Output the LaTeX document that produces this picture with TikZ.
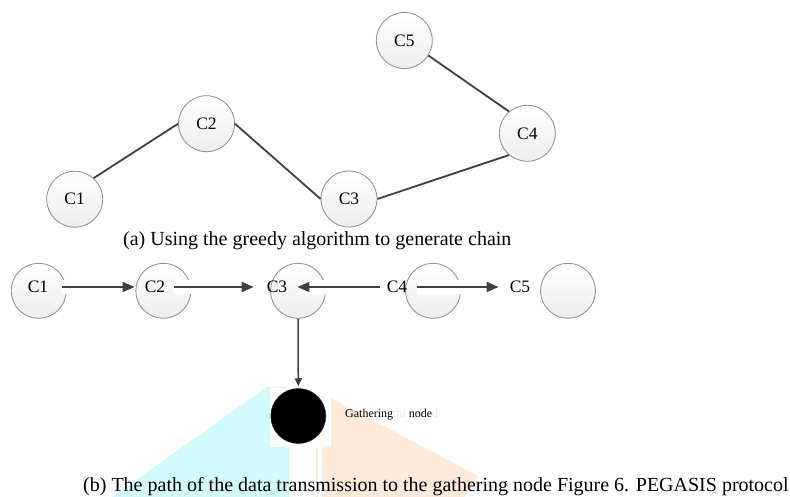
\documentclass[tikz,border=0pt]{standalone}
\usepackage{fontspec}
\setmainfont{Liberation Serif}
\usetikzlibrary{arrows.meta}
\definecolor{edgec}{HTML}{404040}
\definecolor{ringc}{HTML}{8C8C8C}
\definecolor{wmcyan}{HTML}{D2FAFA}
\definecolor{wmorange}{HTML}{FDEAD8}
\definecolor{faint}{HTML}{E8E8E8}
\tikzset{
 cnode/.style={circle, minimum size=56pt, inner sep=0pt, draw=ringc, line width=0.8pt,
   top color=white, bottom color=black!7, font=\fontsize{17.5}{17.5}\selectfont},
 bnode/.style={cnode, minimum size=55pt},
 lbl/.style={inner sep=0pt, font=\fontsize{17.5}{17.5}\selectfont},
 link/.style={draw=edgec, line width=1.8pt},
 arr/.style={draw=edgec, line width=1.8pt, -{Triangle[length=12pt,width=10pt]}},
 varr/.style={draw=edgec, line width=1.5pt, -{Triangle[length=8pt,width=7pt]}},
 band/.style={fill=white},
 captxt/.style={inner sep=0pt, font=\fontsize{20}{20}\selectfont, anchor=base west},
}
\begin{document}
\begin{tikzpicture}[x=1pt,y=-1pt]
\useasboundingbox[fill=white] (0,0) rectangle (790,497);

% watermark shapes
\fill[wmcyan] (112,497) -- (267,387) -- (289,387) -- (289,497) -- cycle;
\fill[wmorange] (316,497) -- (316,398) -- (331,398) -- (478,476) -- (464,497) -- cycle;
\fill[white] (317.5,447) rectangle (322,497);
\fill[white] (270,388) rectangle (331,447);

% (a) greedy chain
\node[cnode] (a1) at (74.7,199.2) {C1};
\node[cnode] (a2) at (206.5,123.7) {C2};
\node[cnode] (a3) at (349,199) {C3};
\node[cnode] (a4) at (527.3,133.3) {C4};
\node[cnode] (a5) at (404.3,40.5) {C5};
\draw[link] (a1.48) -- (a2.west);
\draw[link] (a2.east) -- (a3.west);
\draw[link] (a3.east) -- (a4.230);
\draw[link] (a5.-32) -- (a4.130);
\node[captxt] (capa) at (123,245.6) {(a) Using the greedy algorithm to generate chain};

% (b) data path
\node[bnode] (b1) at (38.7,290.8) {};
\node[bnode] (b2) at (163.3,290.8) {};
\node[bnode] (b3) at (298,290.8) {};
\node[bnode] (b4) at (433,290.8) {};
\node[bnode] (b5) at (568,290.8) {};

\node[lbl] (l1) at (38,287) {C1};
\node[lbl] (l2) at (155,287) {C2};
\node[lbl] (l3) at (277,287) {C3};
\node[lbl] (l4) at (397,287) {C4};
\node[lbl] (l5) at (520,287) {C5};

\coordinate (s12) at ([xshift=14pt]l1.east);
\coordinate (e12) at ([xshift=-10pt]l2.west);
\coordinate (s23) at ([xshift=9pt]l2.east);
\coordinate (e23) at ([xshift=-13pt]l3.west);
\coordinate (s43) at ([xshift=-7pt]l4.west);
\coordinate (e43) at ([xshift=10pt]l3.east);
\coordinate (s45) at ([xshift=10pt]l4.east);
\coordinate (e45) at ([xshift=-11pt]l5.west);

\fill[band] ([shift={(0,-7)}]s12) rectangle ([shift={(0,7)}]e12);
\fill[band] ([shift={(0,-7)}]s23) rectangle ([shift={(0,7)}]e23);
\fill[band] ([shift={(0,-7)}]e43) rectangle ([shift={(0,7)}]s43);
\fill[band] ([shift={(0,-7)}]s45) rectangle ([shift={(0,7)}]e45);

\draw[arr] (s12) -- (e12);
\draw[arr] (s23) -- (e23);
\draw[arr] (s43) -- (e43);
\draw[arr] (s45) -- (e45);

% gathering node
\node[circle, fill=black, draw=black!85, line width=0.5pt, minimum size=55pt, inner sep=0pt] (g) at (298.3,416) {};
\draw[varr] (b3.south) -- ([yshift=2pt]g.north);
\node[inner sep=0pt, anchor=base west, font=\fontsize{12}{12}\selectfont] (gt) at (345,417.3)
  {Gathering\textcolor{faint}{thi} node\textcolor{faint}{d}};

\node[captxt] (capb) at (83,491.7) {(b) The path of the data transmission to the gathering node Figure 6. PEGASIS protocol};
\end{tikzpicture}
\end{document}
